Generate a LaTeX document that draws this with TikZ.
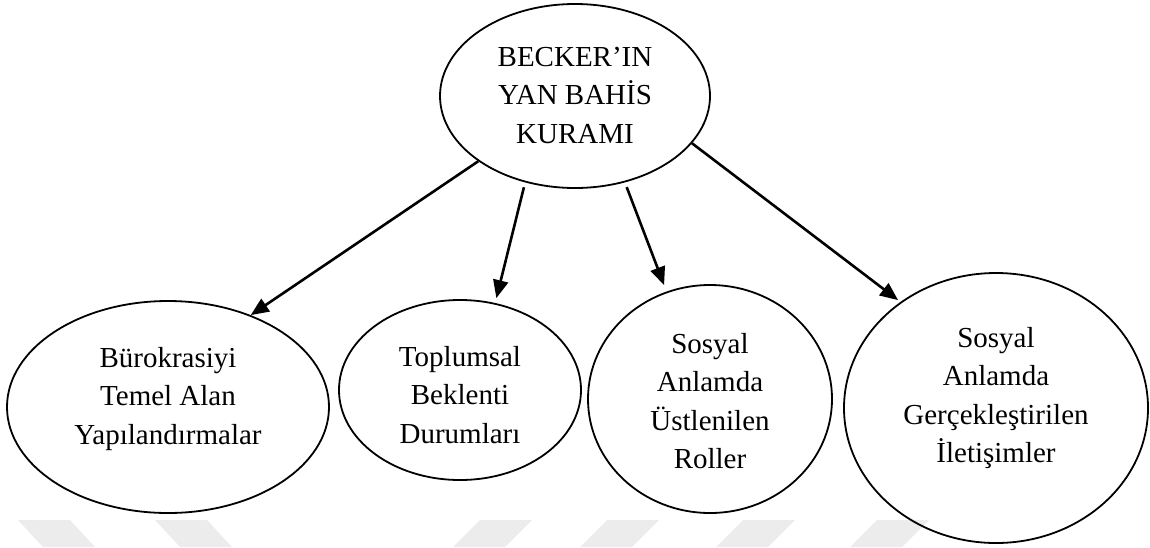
\documentclass[tikz,border=0pt]{standalone}
\usepackage{fontspec}
\setmainfont{Liberation Serif}
\usetikzlibrary{shapes.geometric,arrows.meta}
\definecolor{wmgray}{RGB}{236,236,236}
\newcommand\mylines[1]{\parbox[t]{320pt}{\centering\fontsize{29}{38.5}\selectfont #1}}
\tikzset{
  oval/.style={draw, ellipse, line width=1.8pt, inner sep=0pt},
  txt/.style={anchor=base, inner sep=0pt},
  arr/.style={line width=2.6pt, -{Triangle[length=18pt,width=15pt]}},
  wm/.style={fill=wmgray, draw=none}
}
\begin{document}
\begin{tikzpicture}[x=1pt,y=-1pt]
\useasboundingbox (0,0) rectangle (1150,547);
% faint watermark shapes
\fill[wm] (18,520) -- (70,520) -- (95,547) -- (43,547) -- cycle;
\fill[wm] (155,520) -- (207,520) -- (232,547) -- (180,547) -- cycle;
\fill[wm] (480,520) -- (532,520) -- (505,547) -- (453,547) -- cycle;
\fill[wm] (607,520) -- (659,520) -- (632,547) -- (580,547) -- cycle;
\fill[wm] (743,520) -- (795,520) -- (768,547) -- (716,547) -- cycle;
\fill[wm] (877,520) -- (929,520) -- (902,547) -- (850,547) -- cycle;
% ellipses
\node[oval, minimum width=270pt, minimum height=184pt] (top) at (575,96) {};
\node[oval, minimum width=322pt, minimum height=212pt] (e1) at (168,407) {};
\node[oval, minimum width=242pt, minimum height=180pt] (e2) at (460,390) {};
\node[oval, minimum width=244pt, minimum height=228pt] (e3) at (710,399) {};
\node[oval, minimum width=304pt, minimum height=270pt] (e4) at (996,408) {};
% texts
\node[txt] (ttop) at (575,66) {\mylines{BECKER’IN\\YAN BAHİS\\KURAMI}};
\node[txt] (t1) at (168,367) {\mylines{Bürokrasiyi\\Temel Alan\\Yapılandırmalar}};
\node[txt] (t2) at (460,366) {\mylines{Toplumsal\\Beklenti\\Durumları}};
\node[txt] (t3) at (710,353) {\mylines{Sosyal\\Anlamda\\Üstlenilen\\Roller}};
\node[txt] (t4) at (996,347) {\mylines{Sosyal\\Anlamda\\Gerçekleştirilen\\İletişimler}};
% arrows
\draw[arr] (top.214) -- (e1.48);
\draw[arr, shorten <=5pt, shorten >=5pt] (top.240) -- (e2.68);
\draw[arr, shorten <=5pt, shorten >=7pt] (top.300) -- (e3.112);
\draw[arr, shorten >=3pt] (top.338) -- (e4.132);
\end{tikzpicture}
\end{document}
